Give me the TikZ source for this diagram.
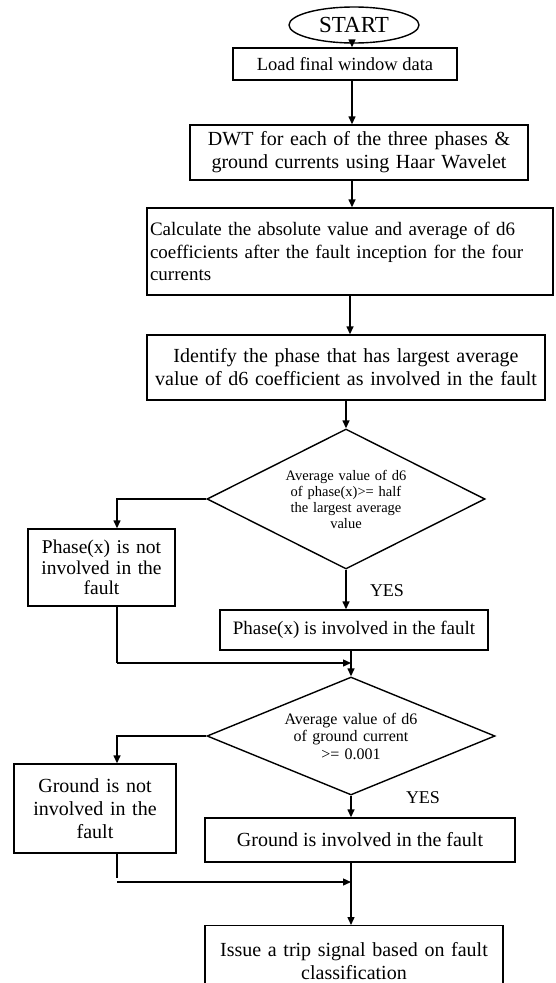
\documentclass[tikz,border=0pt]{standalone}
\usepackage{fontspec}
\setmainfont{Liberation Serif}
\usetikzlibrary{shapes.geometric,arrows.meta}

\begin{document}
\begin{tikzpicture}[x=1pt,y=-1pt,
    box/.style={draw, line width=1.4pt, inner sep=2pt, align=center, font=\fontsize{20}{23}\selectfont},
    dec/.style={draw, diamond, line width=1.4pt, inner sep=0pt, align=center},
    arr/.style={line width=1.4pt, -{Triangle[length=8pt,width=7pt]}},
    ln/.style={line width=1.4pt}]
    \useasboundingbox (0,0) rectangle (556,983);

    \node [box, ellipse, minimum width=130pt, minimum height=36pt, font=\fontsize{23}{26}\selectfont] (start) at (354,25) {START};
    \node [box, minimum width=224pt, minimum height=32pt, font=\fontsize{18.5}{22}\selectfont] (load) at (345,64)
      {Load final window data};
    \node [box, minimum width=338pt, minimum height=55pt, text width=330pt] (dwt) at (359,152.5)
      {DWT for each of the three phases \&\\ ground currents using Haar Wavelet};
    \node [box, minimum width=406pt, minimum height=87pt, text width=400pt, align=left,
      font=\fontsize{19}{22.5}\selectfont] (calc) at (350,251.5)
      {Calculate the absolute value and average of d6\\ coefficients after the fault inception for the four\\ currents};
    \node [box, minimum width=398pt, minimum height=65pt, text width=390pt] (ident) at (346,367.5)
      {Identify the phase that has largest average\\ value of d6 coefficient as involved in the fault};

    \node [dec, aspect=2, minimum width=278pt, minimum height=140pt, text width=125pt,
      font=\fontsize{14.5}{16}\selectfont] (dia1) at (346,499)
      {Average value of d6\\ of phase(x)>= half\\ the largest average\\ value};
    \node [box, minimum width=147pt, minimum height=77pt, text width=140pt,
      font=\fontsize{19.5}{20.5}\selectfont] (pnot) at (101.5,567.5)
      {Phase(x) is not\\ involved in the\\ fault};
    \node [box, minimum width=268pt, minimum height=40pt, font=\fontsize{19}{22}\selectfont] (pin) at (354,630)
      {Phase(x) is involved in the fault};
    \node [font=\fontsize{18}{21}\selectfont] (yes1) at (387,591) {YES};

    \node [dec, aspect=2.4, minimum width=288pt, minimum height=118pt, text width=140pt,
      font=\fontsize{16}{17.5}\selectfont] (dia2) at (351,736)
      {Average value of d6\\ of ground current\\ >= 0.001};
    \node [box, minimum width=162pt, minimum height=89pt, text width=150pt,
      font=\fontsize{20}{23}\selectfont] (gnot) at (95,808.5)
      {Ground is not\\ involved in the\\ fault};
    \node [box, minimum width=310pt, minimum height=44pt] (gin) at (360,840)
      {Ground is involved in the fault};
    \node [font=\fontsize{18}{21}\selectfont] (yes2) at (423,798) {YES};

    \node [box, minimum width=298pt, minimum height=70pt, text width=290pt, anchor=north] (issue) at (354,925)
      {Issue a trip signal based on fault\\ classification};

    \coordinate (j1) at (117,663);
    \coordinate (m1) at (351,663);
    \coordinate (j2) at (117,882);
    \coordinate (m2) at (351,882);

    \draw [arr] (start.south -| 352,0) -- (load.north -| 352,0);
    \draw [arr] (load.south -| 352,0) -- (dwt.north -| 352,0);
    \draw [arr] (dwt.south -| 352,0) -- (calc.north -| 352,0);
    \draw [arr] (calc.south -| 350,0) -- (ident.north -| 350,0);
    \draw [arr] (ident.south -| dia1.north) -- (dia1.north);
    \draw [arr] (dia1.south) -- (pin.north -| dia1.south);
    \draw [arr] (dia1.west) -| (pnot.north -| j1);
    \draw [ln] (pnot.south -| j1) -- (j1);
    \draw [arr] (j1) -- (m1);
    \draw [arr] (pin.south -| dia2.north) -- (dia2.north);
    \draw [arr] (dia2.south) -- (gin.north -| dia2.south);
    \draw [arr] (dia2.west) -| (gnot.north -| j2);
    \draw [ln] (gnot.south -| j2) -- ([yshift=4pt]j2);
    \draw [arr] (j2) -- (m2);
    \draw [arr] (gin.south -| m2) -- (issue.north -| m2);
\end{tikzpicture}
\end{document}
